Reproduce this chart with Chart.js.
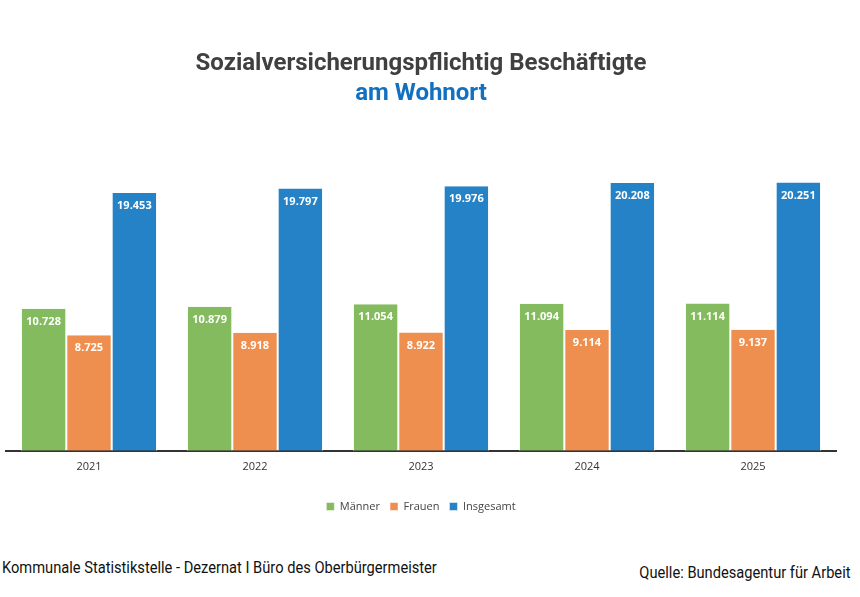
<!DOCTYPE html>
<html><head><meta charset="utf-8">
<script src="https://cdn.jsdelivr.net/npm/chart.js@4.4.1/dist/chart.umd.min.js"></script>
<style>
html,body{margin:0;padding:0;background:#fff;width:860px;height:597px;overflow:hidden;position:relative}
#wrap{position:absolute;left:0;top:0;width:860px;height:530px}
.foot{position:absolute;font-family:"Roboto",sans-serif;font-size:16px;color:#111;white-space:nowrap;transform:scaleX(0.916)}
</style></head><body>
<div id="wrap"><canvas id="c"></canvas></div>
<div class="foot" style="left:2px;top:558px;transform-origin:left top">Kommunale Statistikstelle - Dezernat I Büro des Oberbürgermeister</div>
<div class="foot" style="right:10px;top:563px;transform-origin:right top">Quelle: Bundesagentur für Arbeit</div>
<script>
const years = ["2021","2022","2023","2024","2025"];
const maenner = [10728,10879,11054,11094,11114];
const frauen = [8725,8918,8922,9114,9137];
const insgesamt = [19453,19797,19976,20208,20251];
const seriesNames = ["Männer","Frauen","Insgesamt"];
const seriesColors = ["#84bb5f","#ef8f4f","#2582c6"];

function fmt(v){return String(v).replace(/\B(?=(\d{3})+(?!\d))/g,".");}

const labelPlugin = {
  id:'barLabels',
  afterDatasetsDraw(chart){
    const ctx = chart.ctx;
    ctx.save();
    ctx.font = 'bold 11px "Open Sans", sans-serif';
    ctx.fillStyle = '#fff';
    ctx.textAlign = 'center';
    ctx.textBaseline = 'middle';
    chart.data.datasets.forEach((ds,i)=>{
      chart.getDatasetMeta(i).data.forEach((el,j)=>{
        ctx.fillText(fmt(ds.data[j]), el.x, el.y + 13);
      });
    });
    ctx.restore();
  }
};

new Chart(document.getElementById('c'),{
  type:'bar',
  data:{
    labels:years,
    datasets:[
      {label:seriesNames[0],data:maenner,backgroundColor:seriesColors[0]},
      {label:seriesNames[1],data:frauen,backgroundColor:seriesColors[1]},
      {label:seriesNames[2],data:insgesamt,backgroundColor:seriesColors[2]}
    ]
  },
  options:{
    responsive:true,maintainAspectRatio:false,animation:false,
    devicePixelRatio:1,
    datasets:{bar:{categoryPercentage:0.82,barPercentage:1.0,borderWidth:{left:1,right:1,top:0,bottom:0},borderColor:'#ffffff',borderSkipped:false}},
    layout:{padding:{left:6,right:24,top:50,bottom:8}},
    plugins:{
      title:{display:true,text:'Sozialversicherungspflichtig Beschäftigte',color:'#404040',
        font:{family:'Roboto',size:24,weight:'bold'},padding:{top:0,bottom:1}},
      subtitle:{display:true,text:'am Wohnort',color:'#1170c0',
        font:{family:'Roboto',size:24,weight:'bold'},padding:{top:0,bottom:11}},
      legend:{position:'bottom',labels:{boxWidth:8,boxHeight:8,color:'#444',
        font:{family:'Open Sans',size:11},padding:10}},
      tooltip:{enabled:false}
    },
    scales:{
      x:{grid:{display:false},border:{display:true,color:'#333',width:2},
        ticks:{color:'#333',font:{family:'Open Sans',size:11},padding:1},
        afterFit:(s)=>{s.height += 17;}},
      y:{display:false,min:0,max:25000}
    }
  },
  plugins:[labelPlugin]
});
</script>
</body></html>
